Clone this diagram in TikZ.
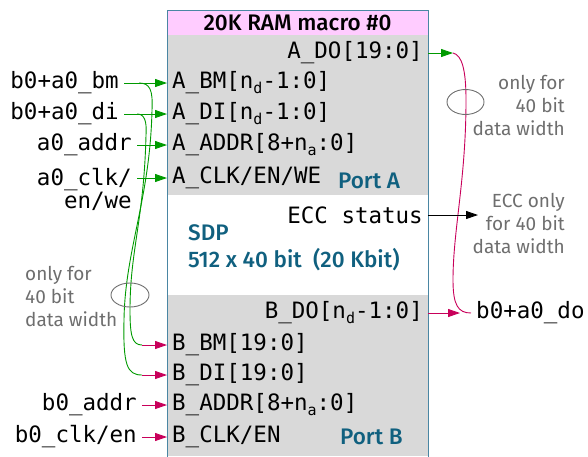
\documentclass[tikz,border=0pt]{standalone}
\usepackage{fontspec}
\setmainfont{Fira Sans}[BoldFont={Fira Sans Medium}]
\setmonofont{DejaVu Sans Mono}
\usetikzlibrary{arrows.meta}
\definecolor{pinkfill}{HTML}{FFCCFF}
\definecolor{greyfill}{HTML}{D9D9D9}
\definecolor{boxedge}{HTML}{4A86A3}
\definecolor{tealtxt}{HTML}{10607F}
\definecolor{sigGreen}{HTML}{009A00}
\definecolor{sigMag}{HTML}{C8005A}
\definecolor{graytxt}{HTML}{6E6E6E}
\newcommand\subtxt[1]{\raisebox{-0.35ex}{\fontsize{15}{15}\selectfont #1}}
\tikzset{
  mono/.style={font=\fontsize{22.5}{24}\selectfont\ttfamily, inner sep=0pt, text=black},
  portl/.style={mono, anchor=west, inner xsep=5pt},
  portr/.style={mono, anchor=east, inner xsep=5pt},
  sig/.style={mono, anchor=east, inner xsep=5pt},
  teallab/.style={font=\fontsize{22.5}{27}\selectfont\bfseries, text=tealtxt, inner sep=0pt},
  note/.style={font=\fontsize{19}{23}\selectfont, text=graytxt, inner sep=0pt},
  tip/.style={-{Triangle[length=12pt,width=8pt]}},
  gline/.style={draw=sigGreen, line width=0.9pt},
  mline/.style={draw=sigMag, line width=0.9pt},
}
\begin{document}
\begin{tikzpicture}[x=1pt,y=-1pt]
\useasboundingbox (0,0) rectangle (588,456);
% box
\fill[pinkfill] (167,10) rectangle (428,35);
\fill[greyfill] (167,35) rectangle (428,195);
\fill[greyfill] (167,295) rectangle (428,456);
\node[draw=boxedge, line width=1pt, minimum width=261pt, minimum height=447pt, anchor=north west, inner sep=0pt] (ram) at (167,10) {};
\node[font=\fontsize{22.5}{24}\selectfont\bfseries, inner sep=0pt] (title) at (297.5,22.5) {20K RAM macro \#0};
% port A
\node[portr] (ado) at (428,53) {A\_DO[19:0]};
\node[portl] (abm) at (167,83) {A\_BM[n\subtxt{d}-1:0]};
\node[portl] (adi) at (167,114) {A\_DI[n\subtxt{d}-1:0]};
\node[portl] (aaddr) at (167,145) {A\_ADDR[8+n\subtxt{a}:0]};
\node[portl] (aclk) at (167,178) {A\_CLK/EN/WE};
\node[teallab, anchor=west] (porta) at (338,181) {Port A};
% middle
\node[portr] (ecc) at (428,215) {ECC status};
\node[teallab, anchor=west] (sdp) at (188,233) {SDP};
\node[teallab, anchor=west] (size) at (188,260) {512 x 40 bit\ \ (20 Kbit)};
% port B
\node[portr] (bdo) at (428,313) {B\_DO[n\subtxt{d}-1:0]};
\node[portl] (bbm) at (167,345) {B\_BM[19:0]};
\node[portl] (bdi) at (167,375) {B\_DI[19:0]};
\node[portl] (baddr) at (167,405) {B\_ADDR[8+n\subtxt{a}:0]};
\node[portl] (bclk) at (167,437) {B\_CLK/EN};
\node[teallab, anchor=west] (portb) at (340,437) {Port B};
% left signals
\node[sig] (sbm) at (124,83) {b0+a0\_bm};
\node[sig] (sdi) at (124,114) {b0+a0\_di};
\node[sig] (saddr) at (137,145) {a0\_addr};
\node[mono, anchor=north east, align=right, font=\fontsize{22.5}{20}\selectfont\ttfamily] (sclk) at (132,168) {a0\_clk/\\en/we};
\coordinate (sclkend) at (137,178);
\node[sig] (sbaddr) at (142,405) {b0\_addr};
\node[sig] (sbclk) at (142,437) {b0\_clk/en};
% right signals
\node[mono, anchor=west, inner xsep=5pt] (sdo) at (471,313) {b0+a0\_do};
\coordinate (adoend) at (453,53);
\coordinate (eccend) at (478,215);
\coordinate (bbmstart) at (142,345);
\coordinate (bdistart) at (142,375);
% notes
\node[note, align=left, anchor=north west] (noteL) at (25,266) {only for\\40 bit\\data width};
\node[note, align=right, anchor=north east] (noteR) at (565,75) {only for\\40 bit\\data width};
\node[note, align=right, anchor=north east] (noteE) at (565,193) {ECC only\\for 40 bit\\data width};
% green arrows
\draw[gline, tip, fill=sigGreen] (sbm.east) -- (abm.west);
\draw[gline, tip, fill=sigGreen] (sdi.east) -- (adi.west);
\draw[gline, tip, fill=sigGreen] (saddr.east) -- (aaddr.west);
\draw[gline, tip, fill=sigGreen] (sclkend) -- (aclk.west);
\draw[gline, tip, fill=sigGreen] (ado.east) -- (adoend);
% green curves to port B
\draw[gline] (139,83) .. controls (150,83) and (153,90) .. (152,110) .. controls (150,200) and (125,250) .. (124,320) .. controls (123,365) and (127,375) .. (bdistart);
\draw[gline] (137,114) .. controls (144,114) and (147,120) .. (146,135) .. controls (144,220) and (130,250) .. (130,310) .. controls (130,335) and (132,345) .. (bbmstart);
% magenta arrows
\draw[mline, tip, fill=sigMag] (bbmstart) -- (bbm.west);
\draw[mline, tip, fill=sigMag] (bdistart) -- (bdi.west);
\draw[mline, tip, fill=sigMag] (sbaddr.east) -- (baddr.west);
\draw[mline, tip, fill=sigMag] (sbclk.east) -- (bclk.west);
\draw[mline, tip, fill=sigMag] (bdo.east) -- (460,313);
\draw[mline] (adoend) .. controls (462,55) and (466,70) .. (466,100) .. controls (466,180) and (453,230) .. (453,280) .. controls (453,305) and (458,313) .. (sdo.west);
% ECC arrow
\draw[line width=0.9pt, tip] (ecc.east) -- (eccend);
% ellipses
\draw[graytxt, line width=0.9pt] (130,295) ellipse [x radius=19, y radius=12];
\draw[graytxt, line width=0.9pt] (465.5,102) ellipse [x radius=18.5, y radius=12.5];
\end{tikzpicture}
\end{document}
